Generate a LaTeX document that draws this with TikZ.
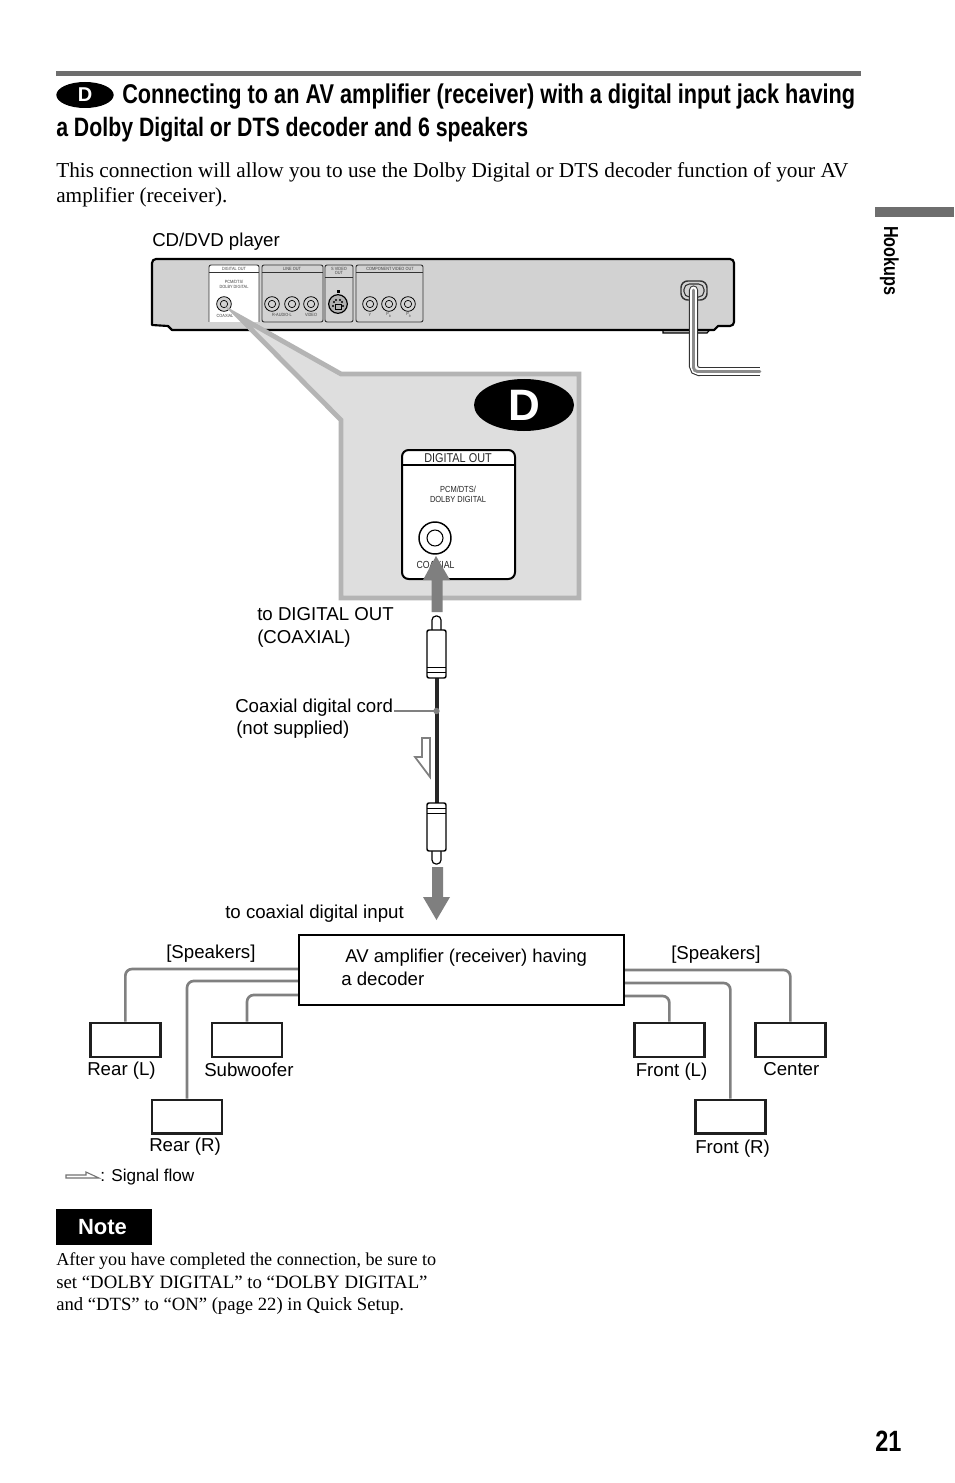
\documentclass[tikz,border=0pt]{standalone}
\usepackage{fontspec}
\setmainfont{Liberation Serif}
\newfontfamily\hv{Liberation Sans}
\newfontfamily\hc[FakeStretch=0.80]{Liberation Sans}
\newfontfamily\hn[FakeStretch=0.85]{Liberation Sans}
\usetikzlibrary{shapes.geometric}
\newcommand{\fs}[1]{\fontsize{#1}{#1}\selectfont}
\definecolor{ruleg}{HTML}{6E6E6E}
\definecolor{wireg}{HTML}{808080}
\definecolor{callg}{HTML}{B4B4B4}
\definecolor{callf}{HTML}{DEDEDE}
\definecolor{devf}{HTML}{D2D2D2}
\definecolor{arrowg}{HTML}{7F7F7F}
\tikzset{
 txt/.style={inner sep=0pt,anchor=base west,text=black},
 lab/.style={txt,font=\hv\fs{14}},
 head/.style={txt,font=\hc\bfseries\fs{20.35}},
 body/.style={txt,font=\fs{15.95}},
 notetxt/.style={txt,font=\fs{13.63}},
 spk/.style={draw=black!88,line width=2pt,fill=white,minimum width=52.5pt,minimum height=25.4pt,inner sep=0pt,anchor=north west},
 wire/.style={draw=wireg,line width=2pt,rounded corners=5pt},
 tiny/.style={inner sep=0pt,font=\hn\fs{3.4},text=black!75},
 panel/.style={draw=black!80,line width=.7pt,rounded corners=1.5pt},
 jack/.style={circle,draw=black,line width=.6pt,fill=devf,minimum size=11pt,inner sep=0pt},
 jackin/.style={circle,draw=black,line width=.5pt,minimum size=5.5pt,inner sep=0pt},
 blockarrow/.style={fill=arrowg,draw=none},
 plug/.style={draw=black,line width=1.1pt,fill=white,rounded corners=1.5pt},
}
\begin{document}
\begin{tikzpicture}[x=0.75pt,y=-0.75pt]
\useasboundingbox (0,0) rectangle (954,1483);
\fill[white] (0,0) rectangle (954,1483);
% page furniture
\fill[ruleg] (56,71) rectangle (861,76);
\fill[ruleg] (875,207) rectangle (954,217);
\node[ellipse,fill=black,minimum width=43pt,minimum height=19.5pt,inner sep=0pt,text=white,font=\hv\bfseries\fs{15}] (hbadge) at (85,95) {D};
\node[head] (h1) at (122,104) {Connecting to an AV amplifier (receiver) with a digital input jack having};
\node[head,font=\hc\bfseries\fs{19.95}] (h2) at (56,137) {a Dolby Digital or DTS decoder and 6 speakers};
\node[body] (b1) at (56,178) {This connection will allow you to use the Dolby Digital or DTS decoder function of your AV};
\node[body] (b2) at (56,203) {amplifier (receiver).};
\node[inner sep=0pt,rotate=270,font=\hc\bfseries\fs{15.2},anchor=base west] (hook) at (884,226) {Hookups};
\node[txt,font=\hc\bfseries\fs{22}] (pg) at (875,1451) {21};
% device
\node[lab] (cdlab) at (152,247) {CD/DVD player};
\draw[black,line width=.9pt,fill=black!25] (663,326) -- (663,333) -- (707,333) -- (713,326) -- cycle;
\draw[black,line width=1.6pt,fill=devf,line join=round] (152,325) [rounded corners=3pt] -- (152,259) -- (734,259) -- (734,326) [sharp corners] -- (718,326) -- (714,330) -- (172,330) -- (168,326) -- cycle;
\fill[white] (209,265) rectangle (259,322);
\draw[panel] (209,322) -- (209,265) -- (259,265) -- (259,322);
\draw[panel] (209,272) -- (259,272);
\draw[panel] (262,265) rectangle (323,322);
\draw[panel] (262,272) -- (323,272);
\draw[panel] (325,265) rectangle (353,322);
\draw[panel] (325,277) -- (353,277);
\draw[panel] (356,265) rectangle (423,322);
\draw[panel] (356,272) -- (423,272);
\node[tiny] (t1) at (234,269) {DIGITAL OUT};
\node[tiny] (t2) at (234,282) {PCM/DTS/};
\node[tiny] (t3) at (234,287) {DOLBY DIGITAL};
\node[tiny] (t4) at (225,316) {COAXIAL};
\node[tiny] (t5) at (292,269) {LINE OUT};
\node[tiny] (t6) at (282,315) {R-AUDIO-L};
\node[tiny] (t7) at (311,315) {VIDEO};
\node[tiny,align=center] (t8) at (339,271) {S VIDEO\\[-.3pt]OUT};
\node[tiny] (t9) at (390,269) {COMPONENT VIDEO OUT};
\node[tiny] (t10) at (370,315) {Y};
\node[tiny] (t11) at (389,315) {P\textsubscript{B}};
\node[tiny] (t12) at (409,315) {P\textsubscript{R}};
\foreach \n/\x in {j1/224,j2/272,j3/292,j4/311,j6/370,j7/389,j8/408}{
  \node[jack] (\n) at (\x,304) {};
  \node[jackin] (\n i) at (\x,304) {};
}
\node[jack,minimum size=14pt,line width=.9pt,fill=black!30] (j5) at (338,304) {};
\foreach \dx/\dy in {-4/-2,4/-2,-5/2,5/2,-2/-4,2/-4}{\fill[black] (338+\dx,304+\dy) circle (.8pt);}
\draw[black,line width=.5pt] (335,304) rectangle (341,309);
\fill[black] (336.5,290) rectangle (339.5,293);
% power cord
\draw[black!80,line width=1.1pt,rounded corners=5pt,fill=devf] (681,281) rectangle (707,300);
\draw[black!80,line width=.8pt,rounded corners=4pt] (684,284) rectangle (704,297);
\draw[black!80,line width=6.8pt,rounded corners=4pt,line cap=round] (693.5,290) -- (693.5,371.5) -- (700,371.5);
\draw[black!80,line width=6.8pt] (698,371.5) -- (760,371.5);
\draw[white,line width=5.2pt,rounded corners=4pt,line cap=round] (693.5,290) -- (693.5,371.5) -- (700,371.5);
\draw[white,line width=5.2pt] (698,371.5) -- (760,371.5);
\draw[black!45,line width=2.2pt,rounded corners=3pt,line cap=round] (693.5,290) -- (693.5,371.5) -- (760,371.5);
% callout
\draw[draw=callg,fill=callf,line width=3.6pt,miter limit=20] (238,316) -- (341,374) -- (579,374) -- (579,598) -- (341,598) -- (341,420) -- cycle;
\node[ellipse,fill=black,minimum width=75pt,minimum height=39pt,inner sep=0pt,text=white,font=\hv\bfseries\fs{33}] (dbadge) at (524,405) {D};
% big panel
\draw[black,line width=1.5pt,fill=white,rounded corners=5pt] (402,450) rectangle (515,579);
\draw[black,line width=1.2pt] (402,465) -- (515,465);
\node[inner sep=0pt,font=\hn\fs{9.6},text=black!85] (d1) at (458,458) {DIGITAL OUT};
\node[inner sep=0pt,font=\hn\fs{6.6},text=black!85] (d2) at (458,489) {PCM/DTS/};
\node[inner sep=0pt,font=\hn\fs{6.6},text=black!85] (d3) at (458,499) {DOLBY DIGITAL};
\node[circle,draw=black,line width=1.1pt,minimum size=24pt,inner sep=0pt,fill=white] (bj) at (435,538) {};
\node[circle,draw=black,line width=.8pt,minimum size=12pt,inner sep=0pt] (bji) at (435,538) {};
\node[inner sep=0pt,font=\hn\fs{7.7},text=black!85] (d4) at (435.5,565) {COAXIAL};
% cable
\coordinate (ctop) at (436.5,678);
\coordinate (cbot) at (436.5,803);
\coordinate (cdot) at (436.5,711);
\draw[black!85,line width=3pt] (ctop) -- (cbot);
\fill[blockarrow] (431.5,612) -- (431.5,580) -- (423,580) -- (436,556) -- (450,580) -- (442.5,580) -- (442.5,612) -- cycle;
\draw[plug,rounded corners=3pt,line width=.9pt] (432,631) -- (432,616) -- (441,616) -- (441,631);
\draw[plug] (427,630) rectangle (446,678);
\draw[black,line width=.6pt] (427,667) -- (446,667) (427,672) -- (446,672);
\draw[plug,rounded corners=3pt,line width=.9pt] (432,851) -- (432,864) -- (441,864) -- (441,851);
\draw[plug] (427,803) rectangle (446,851);
\draw[black,line width=.6pt] (427,808) -- (446,808) (427,813) -- (446,813);
\fill[blockarrow] (432,867) -- (443,867) -- (443,897) -- (450,897) -- (436.5,920) -- (423,897) -- (432,897) -- cycle;
\fill[wireg] (cdot) circle (2.4pt);
\coordinate (lead) at (394,711);
\draw[wireg,line width=.9pt] (lead) -- (cdot);
\draw[draw=wireg,fill=white,line width=1.3pt] (422,738) -- (430,738) -- (430,777) -- (415,757) -- (422,757) -- cycle;
% labels
\node[lab] (l1) at (257,620) {to DIGITAL OUT};
\node[lab] (l2) at (257,643) {(COAXIAL)};
\node[lab] (l3) at (235,712) {Coaxial digital cord};
\node[lab] (l4) at (236,734) {(not supplied)};
\node[lab] (l5) at (225,918) {to coaxial digital input};
\node[lab] (l6) at (166,958) {[Speakers]};
\node[lab] (l7) at (671,959) {[Speakers]};
% amplifier
\node[draw=black,line width=1.5pt,fill=white,minimum width=243.8pt,minimum height=52.5pt,inner sep=0pt] (amp) at (461.5,970) {};
\node[lab,font=\hv\fs{13.9}] (al1) at (345,962) {AV amplifier (receiver) having};
\node[lab] (al2) at (341,985) {a decoder};
% speakers
\node[spk] (rl) at (89,1021.7) {};
\node[spk] (sub) at (210.7,1021.7) {};
\node[spk] (rr) at (150.7,1098.5) {};
\node[spk] (fl) at (633,1021.7) {};
\node[spk] (cen) at (754,1021.7) {};
\node[spk] (fr) at (694,1098.5) {};
\coordinate (w1) at (amp.west |- 0,969);
\coordinate (w2) at (amp.west |- 0,981);
\coordinate (w3) at (amp.west |- 0,995);
\coordinate (w4) at (amp.east |- 0,970);
\coordinate (w5) at (amp.east |- 0,983);
\coordinate (w6) at (amp.east |- 0,996);
\draw[wire] (w1) -| (rl.north);
\draw[wire] (w2) -| (rr.north);
\draw[wire] (w3) -| (sub.north);
\draw[wire] (w4) -| (cen.north);
\draw[wire] (w5) -| (fr.north);
\draw[wire] (w6) -| (fl.north);
\node[lab] (s1) at (87,1075) {Rear (L)};
\node[lab] (s2) at (204,1076) {Subwoofer};
\node[lab] (s3) at (149,1151) {Rear (R)};
\node[lab] (s4) at (635.5,1076) {Front (L)};
\node[lab] (s5) at (763,1075) {Center};
\node[lab] (s6) at (695,1153) {Front (R)};
% signal flow
\draw[draw=black!55,fill=white,line width=.8pt] (66,1175) -- (86,1175) -- (86,1172) -- (99,1178) -- (66,1178) -- cycle;
\node[txt,font=\hv\fs{12.87}] (sf) at (100,1181) {: Signal flow};
% note
\fill[black] (56,1209) rectangle (152,1245);
\node[inner sep=0pt,font=\hv\bfseries\fs{16.5},text=white] (note) at (102.5,1227) {Note};
\node[notetxt] (n1) at (56,1265) {After you have completed the connection, be sure to};
\node[notetxt,font=\fs{14.1}] (n2) at (56,1288) {set “DOLBY DIGITAL” to “DOLBY DIGITAL”};
\node[notetxt,font=\fs{14}] (n3) at (56,1310) {and “DTS” to “ON” (page 22) in Quick Setup.};
\end{tikzpicture}
\end{document}
